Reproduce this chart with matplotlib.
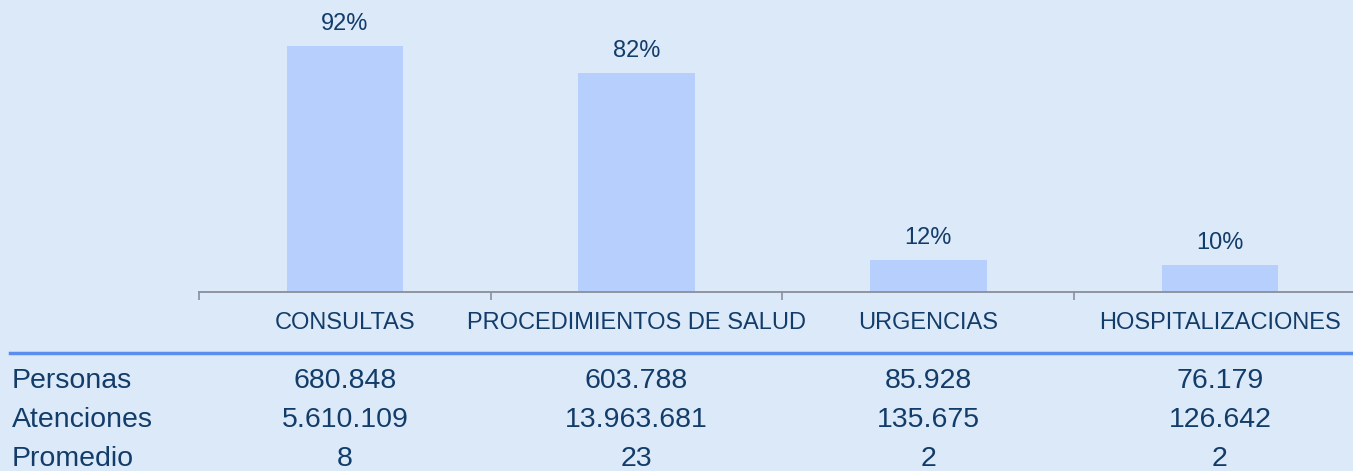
import matplotlib.pyplot as plt
from matplotlib.lines import Line2D
import numpy as np

categories = ["CONSULTAS", "PROCEDIMIENTOS DE SALUD", "URGENCIAS", "HOSPITALIZACIONES"]
porcentajes = [92, 82, 12, 10]
row_names = ["Personas", "Atenciones", "Promedio"]
personas = ["680.848", "603.788", "85.928", "76.179"]
atenciones = ["5.610.109", "13.963.681", "135.675", "126.642"]
promedio = ["8", "23", "2", "2"]

BG = "#dce9f9"
BAR = "#b7cffd"
TXT = "#123c69"
W, H = 1353, 471

plt.rcParams['font.family'] = ['Liberation Sans', 'DejaVu Sans']

fig = plt.figure(figsize=(W / 100, H / 100), dpi=100, facecolor=BG)
# axes: left edge at x=199 px, baseline at y=292 px from top
ax = fig.add_axes([199 / W, (H - 292) / H, (W - 199) / W, 292 / H])
ax.set_facecolor(BG)

x = np.arange(len(categories))
ax.bar(x, porcentajes, width=0.4, color=BAR)
for xi, v in zip(x, porcentajes):
    ax.annotate("%d%%" % v, (xi, v), xytext=(0, 16), textcoords="offset pixels",
                ha="center", va="baseline", fontsize=17, color=TXT)

for s in ["top", "right", "left"]:
    ax.spines[s].set_visible(False)
ax.spines["bottom"].set_color("#8a8f99")
ax.spines["bottom"].set_linewidth(1.3)
ax.set_yticks([])
ax.set_xticks(np.arange(len(categories) + 1) - 0.5)
ax.set_xticklabels([])
ax.tick_params(axis="x", direction="out", length=6, width=1.2, color="#8a8f99")
# limits after the ticks, otherwise set_xticks widens the view
ax.set_xlim(-0.5, -0.5 + (W - 199) / 291.7)
ax.set_ylim(0, 292 / 2.674)

tr = ax.get_xaxis_transform()
for xi, c in zip(x, categories):
    ax.text(xi, -(329 - 292) / 292, c, transform=tr, ha="center", va="baseline",
            fontsize=17, color=TXT, clip_on=False)

# table below
fig.add_artist(Line2D([10 / W, 1.0], [(H - 353) / H] * 2, color="#5b8def", lw=2.5))
rows = [personas, atenciones, promedio]
row_base = [388, 427, 466]
for name, vals, yp in zip(row_names, rows, row_base):
    fig.text(12 / W, (H - yp) / H, name, ha="left", va="baseline", fontsize=20.5, color=TXT)
    for xi, v in zip(x, vals):
        ax.text(xi, -(yp - 292) / 292, v, transform=tr, ha="center", va="baseline",
                fontsize=20.5, color=TXT, clip_on=False)

fig.savefig("out.png", dpi=100, facecolor=BG)
